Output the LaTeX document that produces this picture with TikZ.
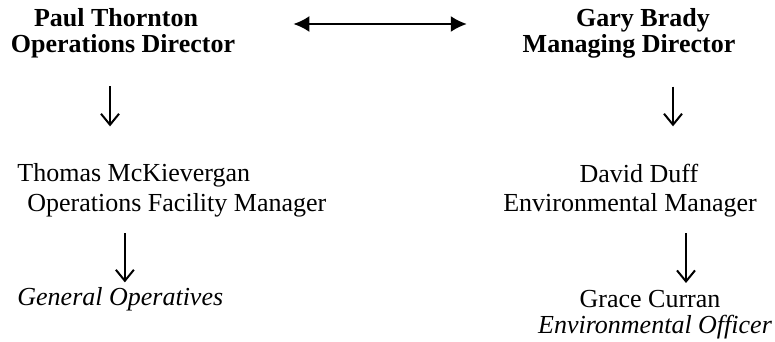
\documentclass[tikz,border=0pt]{standalone}
\usepackage{fontspec}
\setmainfont{Liberation Serif}
\usepackage{tikz}
\usetikzlibrary{arrows.meta}
\newcommand{\chartfont}{\fontsize{13pt}{15pt}\selectfont}

\begin{document}
\begin{tikzpicture}[x=0.5pt,y=-0.5pt,
  every node/.style={inner sep=0pt,font=\chartfont},
  boss/.style={anchor=base,font=\chartfont\bfseries},
  staff/.style={anchor=base},
  droparrow/.style={-{Straight Barb[length=5.5pt,width=9pt,line width=1pt]},line width=1pt},
  pairarrow/.style={{Latex[length=8pt,width=8pt]}-{Latex[length=8pt,width=8pt]},line width=1pt}]
\useasboundingbox (0,0) rectangle (775,342);
\coordinate (p1) at (116,27);
\coordinate (p2) at (123,53);
\coordinate (g1) at (643,27);
\coordinate (g2) at (629,53);
\coordinate (t1) at (17,181);
\coordinate (t2) at (27,211);
\coordinate (o1) at (17,305);
\coordinate (d1) at (639,182);
\coordinate (d2) at (630,211);
\coordinate (c1) at (650,307);
\coordinate (c2) at (655,333);

\node[boss] (pt1) at (p1) {Paul Thornton};
\node[boss] (pt2) at (p2) {Operations Director};
\node[boss] (gb1) at (g1) {Gary Brady};
\node[boss] (gb2) at (g2) {Managing Director};

\node[staff,anchor=base west] (tm1) at (t1) {Thomas McKievergan};
\node[staff,anchor=base west] (tm2) at (t2) {Operations Facility Manager};
\node[staff,anchor=base west] (go1) at (o1) {\itshape General Operatives};

\node[staff] (dd1) at (d1) {David Duff};
\node[staff] (dd2) at (d2) {Environmental Manager};
\node[staff] (gc1) at (c1) {Grace Curran};
\node[staff] (gc2) at (c2) {\itshape Environmental Officer};

\draw[pairarrow,shorten <=47.5pt,shorten >=54.5pt] ([yshift=1.5pt]pt1.base east) -- ([yshift=1.5pt]gb1.base west);

\draw[droparrow,shorten <=13.7pt,shorten >=18.1pt] ([xshift=-6.5pt]pt2.south) -- ([xshift=-6.5pt]pt2.south |- tm1.north);
\draw[droparrow,shorten <=13.7pt,shorten >=18.5pt] ([xshift=22pt]gb2.south) -- ([xshift=22pt]gb2.south |- dd1.north);
\draw[droparrow,shorten <=8.2pt,shorten >=2.1pt] ([xshift=-26pt]tm2.south) -- ([xshift=-26pt]tm2.south |- go1.north);
\draw[droparrow,shorten <=8.2pt,shorten >=3.2pt] ([xshift=28pt]dd2.south) -- ([xshift=28pt]dd2.south |- gc1.north);
\end{tikzpicture}
\end{document}
